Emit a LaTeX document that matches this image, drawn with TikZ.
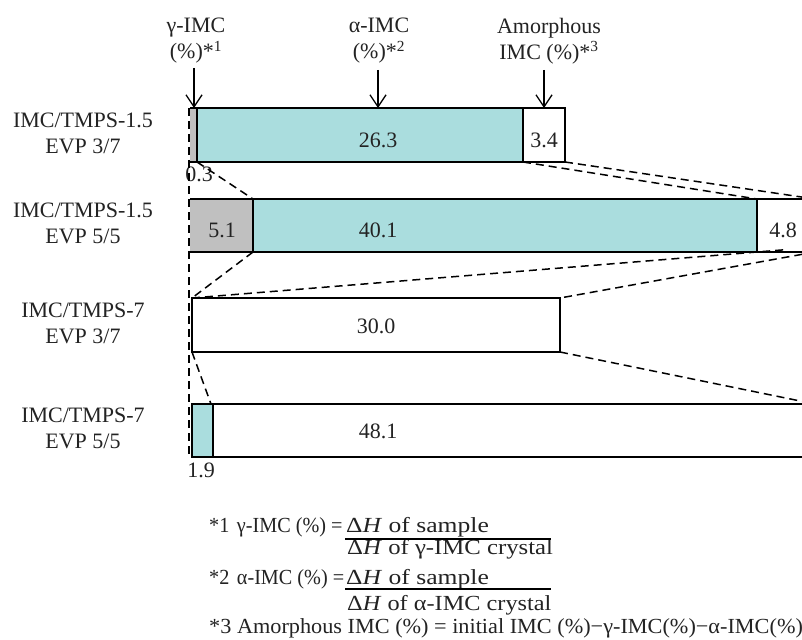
\documentclass[tikz,border=0pt]{standalone}
\usepackage{fontspec}
\setmainfont{Liberation Serif}
\usetikzlibrary{arrows.meta,calc}
\definecolor{tealfill}{RGB}{170,221,222}
\definecolor{grayfill}{RGB}{192,192,192}
\definecolor{txt}{RGB}{35,35,35}
\begin{document}
\begin{tikzpicture}[x=1pt,y=-1pt,
  seg/.style={rectangle, draw=black, line width=1.5pt, inner sep=0pt, outer sep=0pt, anchor=north west},
  segnb/.style={rectangle, inner sep=0pt, outer sep=0pt, anchor=north west},
  barline/.style={draw=black, line width=1.5pt},
  val/.style={anchor=base, inner sep=0pt, font=\fontsize{22}{26}\selectfont, text=txt},
  lbl/.style={align=center, inner sep=0pt, font=\fontsize{22}{26}\selectfont, text=txt},
  zoomline/.style={dash pattern=on 8pt off 5pt, line width=1.5pt},
  ptr/.style={-{Straight Barb[length=12pt,width=16pt,line width=1.3pt]}, line width=1.3pt},
  note/.style={anchor=base west, inner sep=0pt, font=\fontsize{21.5}{25}\selectfont, text=txt},
]
\clip (0,0) rectangle (802,639);
\fill[white] (0,0) rectangle (802,639);

% Bar 1
\node[segnb, fill=grayfill, minimum width=7pt, minimum height=54pt] (g1) at (190,108) {};
\node[seg, fill=tealfill, minimum width=326pt, minimum height=54pt] (t1) at (197,108) {};
\node[seg, fill=white, minimum width=42pt, minimum height=54pt] (w1) at (523,108) {};
\draw[barline] (g1.north west) -- (g1.north east) -- (g1.south east) -- (g1.south west);

% Bar 2
\node[segnb, fill=grayfill, minimum width=63pt, minimum height=53pt] (g2) at (190,199) {};
\node[seg, fill=tealfill, minimum width=504pt, minimum height=53pt] (t2) at (253,199) {};
\node[seg, fill=white, minimum width=58pt, minimum height=53pt] (w2) at (757,199) {};
\draw[barline] (g2.north west) -- (g2.north east) -- (g2.south east) -- (g2.south west);

% Bar 3
\node[seg, fill=white, minimum width=368pt, minimum height=54pt] (w3) at (192,298) {};

% Bar 4
\node[seg, fill=tealfill, minimum width=21pt, minimum height=53pt] (t4) at (192,404) {};
\node[seg, fill=white, minimum width=602pt, minimum height=53pt] (w4) at (213,404) {};

% values
\node[val] (v1) at (378,148) {26.3};
\node[val] (v2) at (544,148) {3.4};
\node[val] (v3) at (222,237) {5.1};
\node[val] (v4) at (378,237) {40.1};
\node[val] (v5) at (783,237) {4.8};
\node[val] (v6) at (376,333) {30.0};
\node[val] (v7) at (378,438) {48.1};
\node[val] (v8) at (199,182) {0.3};
\node[val] (v9) at (201,477) {1.9};

% row labels
\node[lbl] (r1) at (83,133) {IMC/TMPS-1.5\\EVP 3/7};
\node[lbl] (r2) at (83,223.5) {IMC/TMPS-1.5\\EVP 5/5};
\node[lbl] (r3) at (83,323) {IMC/TMPS-7\\EVP 3/7};
\node[lbl] (r4) at (83,428.5) {IMC/TMPS-7\\EVP 5/5};

% column labels
\node[lbl] (cg) at (196,41) {γ-IMC\\(\%)*\textsuperscript{1}};
\node[lbl] (ca) at (379,41) {α-IMC\\(\%)*\textsuperscript{2}};
\node[lbl] (cm) at (549,41) {Amorphous\\IMC (\%)*\textsuperscript{3}};

\coordinate (ag) at (194,68);
\coordinate (aa) at (378,70);
\coordinate (am) at (544,70);
\draw[ptr] (ag) -- (ag |- g1.north);
\draw[ptr] (aa) -- (aa |- t1.north);
\draw[ptr] (am) -- (am |- w1.north);

% dashed zoom lines
\draw[zoomline] ($(g1.north west)+(-1,0)$) -- ($(g1.north west |- w4.south west)+(-1,0)$);
\draw[zoomline] (g1.south east) -- (g2.north east);
\draw[zoomline] (t1.south east) -- (t2.north east);
\draw[zoomline] (w1.south east) -- (w2.north east);
\draw[zoomline] (g2.south east) -- (w3.north west);
\draw[zoomline] (w3.north west) -- ($(w3.north west)!1.05!(t2.south east)$);
\draw[zoomline] (w2.south east) -- (w3.north east);
\draw[zoomline] (w3.south west) -- ($(t4.north east)+(-2,0)$);
\draw[zoomline] (w3.south east) -- (w4.north east);

% footnotes
\node[note] (n1) at (209,532) {\scalebox{0.94}[1]{*1\hspace{8pt}γ-IMC (\%) =}};
\node[note] (n1a) at (346,532) {\scalebox{1.19}[1]{Δ\textit{H} of sample}};
\node[note] (n1b) at (347,554) {\scalebox{1.15}[1]{Δ\textit{H} of γ-IMC crystal}};
\draw[line width=2pt] (345,539) -- (551,539);
\node[note] (n2) at (209,584) {\scalebox{0.94}[1]{*2\hspace{8pt}α-IMC (\%) =}};
\node[note] (n2a) at (346,584) {\scalebox{1.19}[1]{Δ\textit{H} of sample}};
\node[note] (n2b) at (347,610) {\scalebox{1.13}[1]{Δ\textit{H} of α-IMC crystal}};
\draw[line width=2pt] (345,589) -- (551,589);
\node[note] (n3) at (209,633) {\scalebox{1.035}[1]{*3 Amorphous IMC (\%) = initial IMC (\%)−γ-IMC(\%)−α-IMC(\%)}};
\end{tikzpicture}
\end{document}
